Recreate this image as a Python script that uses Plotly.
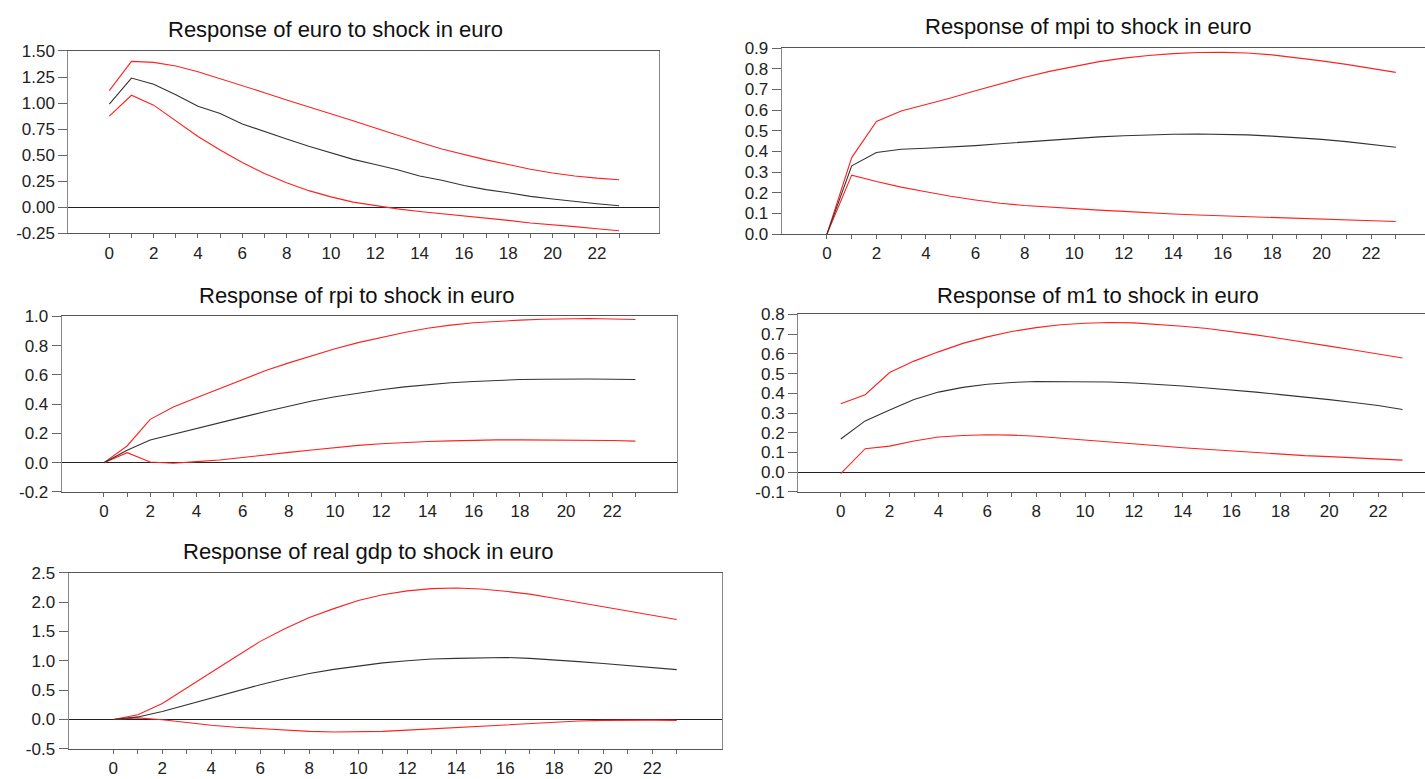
import plotly.graph_objects as go

periods = list(range(24))

euro_mid = [0.99, 1.24, 1.18, 1.08, 0.97, 0.90, 0.80, 0.725, 0.655, 0.585, 0.52, 0.46,
            0.41, 0.36, 0.30, 0.26, 0.21, 0.17, 0.14, 0.105, 0.08, 0.055, 0.035, 0.015]
euro_up = [1.12, 1.40, 1.39, 1.355, 1.30, 1.235, 1.17, 1.10, 1.03, 0.965, 0.90, 0.83,
           0.76, 0.69, 0.625, 0.56, 0.505, 0.455, 0.41, 0.365, 0.33, 0.30, 0.28, 0.265]
euro_lo = [0.875, 1.075, 0.98, 0.83, 0.68, 0.55, 0.43, 0.325, 0.235, 0.16, 0.10, 0.05,
           0.015, -0.015, -0.04, -0.06, -0.085, -0.105, -0.125, -0.15, -0.165, -0.185, -0.205, -0.225]

mpi_mid = [0.0, 0.33, 0.395, 0.41, 0.415, 0.42, 0.428, 0.437, 0.446, 0.455, 0.463, 0.47,
           0.476, 0.481, 0.483, 0.484, 0.483, 0.48, 0.474, 0.467, 0.458, 0.447, 0.435, 0.42]
mpi_up = [0.0, 0.37, 0.545, 0.595, 0.627, 0.658, 0.693, 0.727, 0.759, 0.787, 0.812, 0.834,
          0.851, 0.864, 0.873, 0.878, 0.879, 0.876, 0.867, 0.854, 0.838, 0.821, 0.802, 0.782]
mpi_lo = [0.0, 0.285, 0.254, 0.227, 0.205, 0.183, 0.165, 0.149, 0.138, 0.13, 0.122, 0.116,
          0.11, 0.102, 0.097, 0.092, 0.088, 0.083, 0.078, 0.074, 0.07, 0.067, 0.064, 0.061]

rpi_mid = [0.0, 0.085, 0.155, 0.193, 0.23, 0.272, 0.311, 0.35, 0.388, 0.421, 0.45, 0.476,
           0.498, 0.518, 0.533, 0.546, 0.555, 0.564, 0.568, 0.57, 0.572, 0.572, 0.57, 0.568]
rpi_up = [0.0, 0.114, 0.296, 0.38, 0.443, 0.507, 0.568, 0.63, 0.682, 0.732, 0.778, 0.82,
          0.857, 0.89, 0.918, 0.94, 0.956, 0.967, 0.974, 0.98, 0.985, 0.985, 0.982, 0.978]
rpi_lo = [0.0, 0.068, 0.004, -0.004, 0.007, 0.018, 0.035, 0.05, 0.07, 0.086, 0.103, 0.118,
          0.129, 0.138, 0.145, 0.149, 0.154, 0.156, 0.156, 0.156, 0.156, 0.154, 0.151, 0.147]

m1_mid = [0.168, 0.26, 0.315, 0.368, 0.406, 0.43, 0.446, 0.455, 0.46, 0.46, 0.46, 0.457,
          0.452, 0.446, 0.437, 0.427, 0.418, 0.406, 0.393, 0.381, 0.368, 0.353, 0.338, 0.318]
m1_up = [0.347, 0.393, 0.505, 0.563, 0.61, 0.653, 0.686, 0.713, 0.733, 0.747, 0.755, 0.759,
         0.757, 0.75, 0.74, 0.728, 0.713, 0.696, 0.678, 0.66, 0.639, 0.619, 0.599, 0.579]
m1_lo = [-0.007, 0.119, 0.132, 0.158, 0.178, 0.186, 0.19, 0.188, 0.182, 0.173, 0.163, 0.153,
         0.144, 0.134, 0.124, 0.116, 0.107, 0.099, 0.091, 0.084, 0.079, 0.073, 0.068, 0.061]

gdp_mid = [0.0, 0.044, 0.137, 0.252, 0.373, 0.482, 0.592, 0.696, 0.784, 0.855, 0.916, 0.965,
           1.003, 1.031, 1.042, 1.053, 1.058, 1.042, 1.02, 0.987, 0.954, 0.921, 0.888, 0.85]
gdp_up = [0.0, 0.082, 0.274, 0.543, 0.806, 1.069, 1.332, 1.546, 1.738, 1.891, 2.028, 2.127,
          2.193, 2.231, 2.242, 2.226, 2.187, 2.138, 2.067, 1.996, 1.919, 1.848, 1.776, 1.705]
gdp_lo = [0.0, 0.027, -0.005, -0.055, -0.099, -0.132, -0.159, -0.186, -0.203, -0.214, -0.214, -0.203,
          -0.181, -0.159, -0.137, -0.11, -0.082, -0.06, -0.044, -0.027, -0.016, -0.011, -0.011, -0.016]

titles = ["Response of euro to shock in euro", "Response of mpi to shock in euro",
          "Response of rpi to shock in euro", "Response of m1 to shock in euro",
          "Response of real gdp to shock in euro"]

y_ticks = [
    [-0.25, 0.0, 0.25, 0.5, 0.75, 1.0, 1.25, 1.5],
    [0.0, 0.1, 0.2, 0.3, 0.4, 0.5, 0.6, 0.7, 0.8, 0.9],
    [-0.2, 0.0, 0.2, 0.4, 0.6, 0.8, 1.0],
    [-0.1, 0.0, 0.1, 0.2, 0.3, 0.4, 0.5, 0.6, 0.7, 0.8],
    [-0.5, 0.0, 0.5, 1.0, 1.5, 2.0, 2.5],
]
y_fmt = ["%.2f", "%.1f", "%.1f", "%.1f", "%.1f"]

series = [
    (euro_mid, euro_up, euro_lo),
    (mpi_mid, mpi_up, mpi_lo),
    (rpi_mid, rpi_up, rpi_lo),
    (m1_mid, m1_up, m1_lo),
    (gdp_mid, gdp_up, gdp_lo),
]

W, H = 1425, 779
# pixel boxes: left, right, top, bottom
boxes = [(68.3, 659, 43, 230), (781.7, 1425, 40, 230.7), (61.7, 677, 315, 495),
         (798, 1425, 313, 495), (68.5, 722.3, 578, 758.3)]
xranges = [[-1.85, 24.8], [-1.83, 24.18], [-1.83, 24.8], [-1.75, 23.92], [-1.83, 24.86]]
closed_right = [True, False, True, False, True]
title_pos = [(335, 21), (1088, 18), (357, 294), (1098, 294), (368, 556)]

fig = go.Figure()
font_family = "Liberation Sans, Arial, sans-serif"

for i in range(5):
    xa = "x" if i == 0 else f"x{i+1}"
    ya = "y" if i == 0 else f"y{i+1}"
    mid, up, lo = series[i]
    for vals, col in ((up, "#ff2020"), (lo, "#ff2020"), (mid, "#333333")):
        fig.add_trace(go.Scatter(x=periods, y=vals, mode="lines", xaxis=xa, yaxis=ya,
                                 line=dict(color=col, width=1.1), showlegend=False,
                                 hoverinfo="skip"))
    l, r, t, b = boxes[i]
    key_x = "xaxis" if i == 0 else f"xaxis{i+1}"
    key_y = "yaxis" if i == 0 else f"yaxis{i+1}"
    fig.layout[key_x] = dict(
        domain=[l / W, r / W], range=xranges[i], anchor=ya,
        tickmode="array", tickvals=periods,
        ticktext=[str(p) if p % 2 == 0 else "" for p in periods],
        ticks="outside", ticklen=4, tickcolor="#666", showgrid=False, zeroline=False,
        showline=True, linecolor="#555", linewidth=1, mirror=True,
        tickfont=dict(family=font_family, size=17, color="#222"),
    )
    fig.layout[key_y] = dict(
        domain=[1 - b / H, 1 - t / H], range=[y_ticks[i][0], y_ticks[i][-1]], anchor=xa,
        tickmode="array", tickvals=y_ticks[i], ticktext=[y_fmt[i] % v for v in y_ticks[i]],
        ticks="outside", ticklen=9, tickcolor="#666", showgrid=False,
        zeroline=True, zerolinecolor="#222", zerolinewidth=1,
        showline=True, linecolor="#888", linewidth=1, mirror=closed_right[i],
        tickfont=dict(family=font_family, size=17, color="#222"),
    )
    tx, ty = title_pos[i]
    fig.add_annotation(x=tx / W, y=1 - ty / H, xref="paper", yref="paper", text=titles[i],
                       showarrow=False, xanchor="center", yanchor="middle",
                       font=dict(family=font_family, size=22, color="#111"))

fig.update_layout(width=W, height=H, margin=dict(l=0, r=0, t=0, b=0), autosize=False,
                  paper_bgcolor="white", plot_bgcolor="white")

fig.write_html("out.html")
